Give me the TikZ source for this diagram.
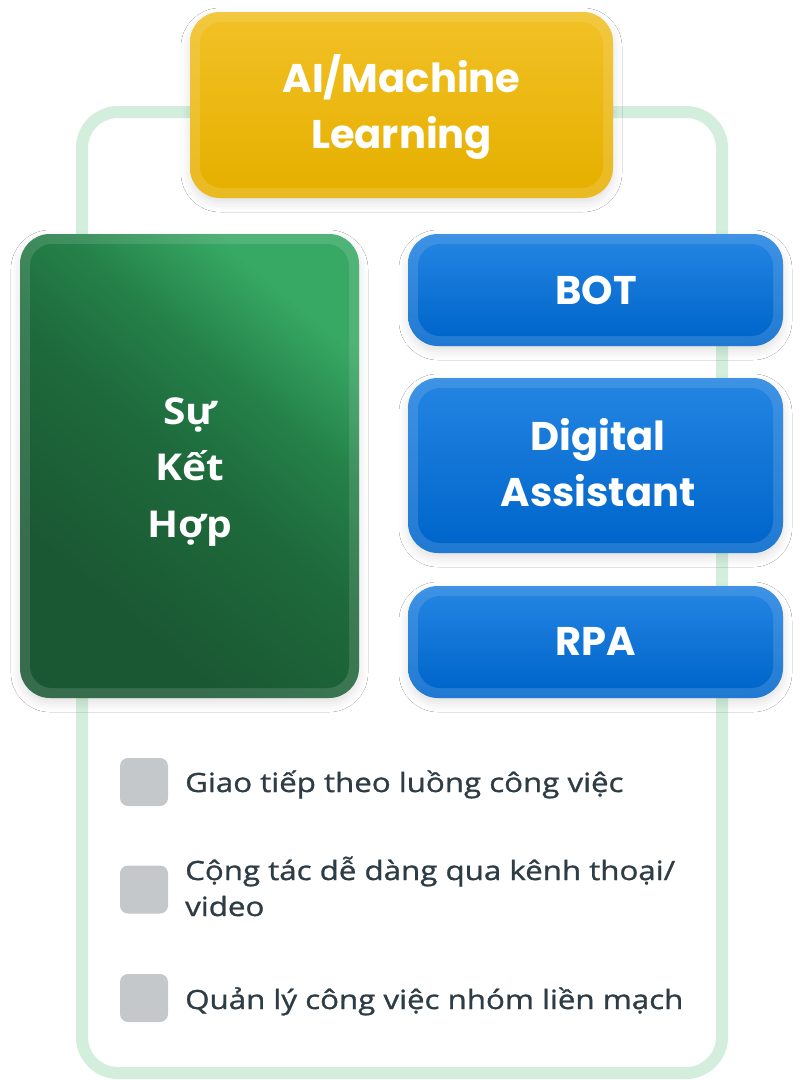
\documentclass[tikz,border=0pt]{standalone}
\usepackage{fontspec}
\setmainfont{Open Sans}
\newfontfamily\popfont{Poppins}
\newfontfamily\itemfont{Open Sans}[FakeStretch=1.18, FakeBold=1.1]
\newfontfamily\gfont{Open Sans}[FakeStretch=1.1]
\usetikzlibrary{calc,shadows.blur}
\definecolor{frameg}{HTML}{D3EEDD}
\definecolor{ytop}{HTML}{F1C024}
\definecolor{ybot}{HTML}{E6B000}
\definecolor{btop}{HTML}{2283E1}
\definecolor{bbot}{HTML}{0066CB}
\definecolor{gtop}{HTML}{37A964}
\definecolor{gup}{HTML}{248048}
\definecolor{gmid}{HTML}{1E6A3C}
\definecolor{gbot}{HTML}{1A5833}
\definecolor{sqgray}{HTML}{C4C8CB}
\definecolor{txt}{HTML}{2E3D45}
\pgfdeclareverticalshading{greensh}{100bp}{color(0bp)=(gbot); color(30bp)=(gbot); color(50bp)=(gmid); color(62bp)=(gup); color(75bp)=(gtop); color(100bp)=(gtop)}
\newcommand{\fancybox}[5]{%
  \node[box, #5, minimum width=#3, minimum height=#4] (#1) at #2 {};
  \fill[white, fill opacity=0.13, rounded corners=30pt] (#1.north west) rectangle (#1.south east);
  \path[#5, rounded corners=22pt] ($(#1.north west)+(10,10)$) rectangle ($(#1.south east)+(-10,-10)$);
}
\begin{document}
\begin{tikzpicture}[x=1pt,y=-1pt,
  box/.style={draw=none, rounded corners=30pt, inner sep=0pt, outer sep=0pt,
    blur shadow={shadow xshift=0pt, shadow yshift=-5pt, shadow blur radius=9pt, shadow opacity=12}},
  yshade/.style={top color=ytop, bottom color=ybot},
  bshade/.style={top color=btop, bottom color=bbot},
  gshade/.style={shading=greensh, shading angle=-40},
  frame/.style={draw=frameg, line width=12pt, fill=white, rounded corners=36pt, inner sep=0pt},
  sq/.style={fill=sqgray, rounded corners=8pt, minimum size=48pt, inner sep=0pt},
  item/.style={font=\itemfont\fontsize{26.5}{36}\selectfont, text=txt, inner sep=0pt, align=left},
  head/.style={font=\popfont\bfseries\fontsize{40}{55.5}\selectfont, text=white, inner sep=0pt, align=center},
  ghead/.style={font=\gfont\bfseries\fontsize{37}{56.5}\selectfont, text=white, inner sep=0pt, align=center}]
\useasboundingbox (0,0) rectangle (804,1080);
\fill[white] (0,0) rectangle (804,1080);
% container
\node[frame, minimum width=640pt, minimum height=961pt] (frm) at (402,592.5) {};
% boxes
\fancybox{ai}{(401.5,105)}{423pt}{186pt}{yshade}
\fancybox{gr}{(189.5,466)}{339pt}{464pt}{gshade}
\fancybox{bot}{(595.5,290)}{375pt}{112pt}{bshade}
\fancybox{da}{(595.5,465.5)}{375pt}{175pt}{bshade}
\fancybox{rpa}{(595.5,642)}{375pt}{112pt}{bshade}
% labels (base anchor = last line baseline)
\node[head, anchor=base] (ait) at (401.5,148) {AI/Machine\\Learning};
\node[ghead, anchor=base] (grt) at (190,537) {Sự\\Kết\\Hợp};
\node[head, anchor=base] (bott) at (596,304) {BOT};
\node[head, anchor=base] (dat) at (598,506) {Digital\\Assistant};
\node[head, anchor=base] (rpat) at (596,655) {RPA};
% bullets
\node[sq] (s1) at (144,782) {};
\node[sq] (s2) at (144,889.5) {};
\node[sq] (s3) at (144,998) {};
\node[item, anchor=base west] (t1) at (185,792) {Giao tiếp theo luồng công việc};
\node[item, anchor=base west] (t2) at (185,916) {Cộng tác dễ dàng qua kênh thoại/\\video};
\node[item, anchor=base west] (t3) at (185,1009) {Quản lý công việc nhóm liền mạch};
\end{tikzpicture}
\end{document}
